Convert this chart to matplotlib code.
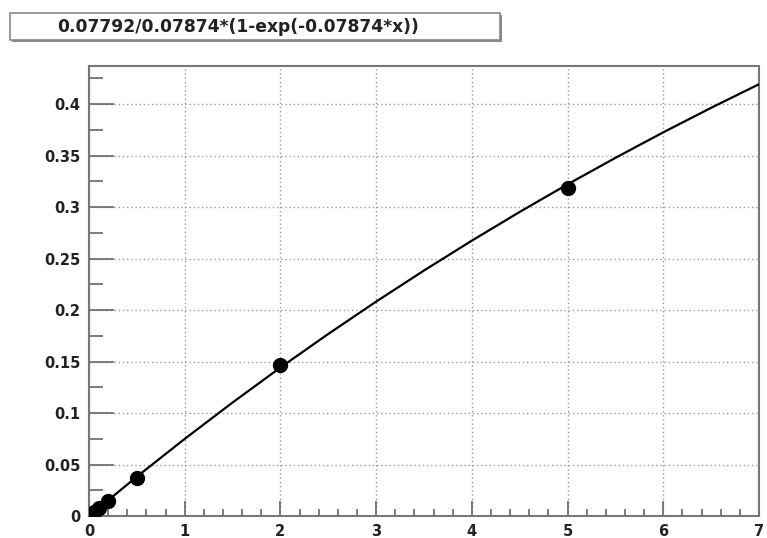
import matplotlib.pyplot as plt
from matplotlib.patches import Rectangle
from matplotlib.ticker import MultipleLocator

# fitted curve
curve_x = [0, 0.5, 1, 1.5, 2, 2.5, 3, 3.5, 4, 4.5, 5, 5.5, 6, 6.5, 7]
curve_y = [0, 0.0382, 0.0749, 0.1102, 0.1442, 0.1768, 0.2082, 0.2384,
           0.2674, 0.2953, 0.3221, 0.3478, 0.3726, 0.3964, 0.4193]

# measured points
pts_x = [0.01, 0.05, 0.1, 0.2, 0.5, 2, 5]
pts_y = [0.001, 0.004, 0.008, 0.015, 0.037, 0.147, 0.319]

title = "0.07792/0.07874*(1-exp(-0.07874*x))"

plt.rcParams['font.family'] = ['DejaVu Sans']

fig = plt.figure(figsize=(7.67, 5.38), dpi=100)
ax = fig.add_axes([89 / 767, 22 / 538, 670 / 767, 450 / 538])

ax.plot(curve_x, curve_y, color='black', lw=1.6, zorder=3)
ax.plot(pts_x, pts_y, 'o', color='black', ms=10, zorder=4)

ax.set_xlim(0, 7)
ax.set_ylim(0, 0.437)
ax.xaxis.set_major_locator(MultipleLocator(1))
ax.xaxis.set_minor_locator(MultipleLocator(0.2))
ax.yaxis.set_minor_locator(MultipleLocator(0.025))
ax.set_yticks([0, 0.05, 0.1, 0.15, 0.2, 0.25, 0.3, 0.35, 0.4])
ax.set_yticklabels(['0', '0.05', '0.1', '0.15', '0.2', '0.25', '0.3', '0.35', '0.4'])

ax.grid(True, which='major', color='#999999', linestyle=(0, (1, 2)), lw=1)
ax.tick_params(axis='both', which='both', direction='in', color='#666666',
               top=False, right=False, labelsize=10.5, width=1.2)
ax.tick_params(axis='y', which='major', length=18, pad=6)
ax.tick_params(axis='y', which='minor', length=10)
ax.tick_params(axis='x', which='major', length=11, pad=6)
ax.tick_params(axis='x', which='minor', length=5)
for lbl in ax.get_xticklabels() + ax.get_yticklabels():
    lbl.set_fontweight('bold')
    lbl.set_color('#222222')
for s in ax.spines.values():
    s.set_color('#777777')
    s.set_linewidth(1.5)

# title box with shadow
fig.patches.append(Rectangle((12 / 767, 1 - 42 / 538), 490 / 767, 27 / 538,
                             transform=fig.transFigure, facecolor='#888888',
                             edgecolor='none'))
fig.patches.append(Rectangle((10 / 767, 1 - 40 / 538), 490 / 767, 27 / 538,
                             transform=fig.transFigure, facecolor='white',
                             edgecolor='#888888', lw=1.2))
fig.text(238 / 767, 1 - 27 / 538, title, ha='center', va='center',
         fontsize=12.3, fontweight='bold', color='#222222')

fig.savefig('out.png', dpi=100)
